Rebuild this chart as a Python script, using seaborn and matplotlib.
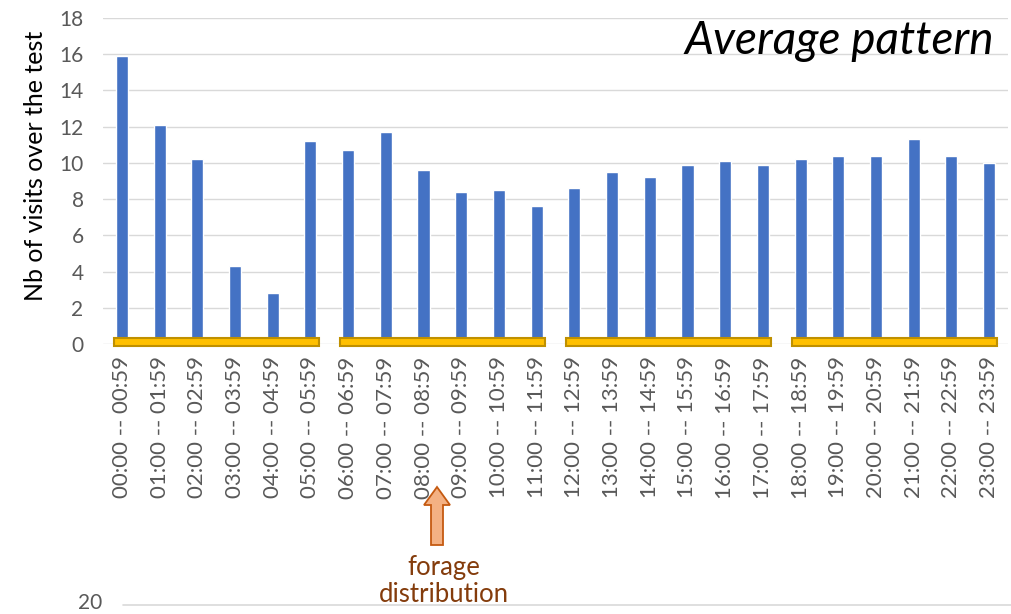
import numpy as np
import pandas as pd
import seaborn as sns
import matplotlib.pyplot as plt
from matplotlib.patches import FancyBboxPatch, FancyArrow
from matplotlib.lines import Line2D

hours = ["%02d:00 -- %02d:59" % (h, h) for h in range(24)]
visits = [15.9, 12.1, 10.2, 4.3, 2.8, 11.2, 10.7, 11.7, 9.6, 8.4, 8.5, 7.6,
          8.6, 9.5, 9.2, 9.9, 10.1, 9.9, 10.2, 10.4, 10.4, 11.3, 10.4, 10.0]
periods = [(0, 5), (6, 11), (12, 17), (18, 23)]
yticks = [0, 2, 4, 6, 8, 10, 12, 14, 16, 18]

df = pd.DataFrame({"hour": hours, "visits": visits})

sns.set_style("white")
plt.rcParams['font.family'] = ['Lato', 'DejaVu Sans']

fig = plt.figure(figsize=(10.11, 6.14), dpi=100)
ax = fig.add_axes([103 / 1011, 1 - 344 / 614, 905 / 1011, 326 / 614])

sns.barplot(data=df, x="hour", y="visits", color="#4472C4", width=0.32,
            saturation=1, ax=ax, zorder=3)

ax.set_ylim(0, 18)
ax.set_xlim(-0.5, 23.5)
ax.set_yticks(yticks)
ax.grid(axis="y", color="#D9D9D9", linewidth=1, zorder=0)
for s in ax.spines.values():
    s.set_visible(False)
ax.tick_params(axis="y", length=0, labelsize=15, labelcolor="#595959", pad=14)
ax.tick_params(axis="x", length=0, labelsize=16, labelcolor="#595959", rotation=90, pad=9)
ax.set_xlabel("")
ax.set_ylabel("Nb of visits over the test", fontsize=18, color="black")
ax.yaxis.set_label_coords(-0.062, 0.546)

# yellow period bars along the baseline
for a, b in periods:
    box = FancyBboxPatch((a - 0.22, -0.1), (b - a) + 0.44, 0.45,
                         boxstyle="square,pad=0", facecolor="#FFC000",
                         edgecolor="#BF9000", linewidth=1.5, clip_on=False, zorder=4)
    ax.add_patch(box)

ax.text(0.985, 0.995, "Average pattern", transform=ax.transAxes, ha="right", va="top",
        fontsize=33, style="italic", color="black", zorder=5)

# forage distribution arrow
arr = FancyArrow(437 / 1011, 1 - 545 / 614, 0, 58 / 614, width=12 / 1011,
                 head_width=26 / 1011, head_length=18 / 614, length_includes_head=True,
                 facecolor="#F4B183", edgecolor="#C55A11", linewidth=1.3,
                 transform=fig.transFigure)
fig.patches.append(arr)
fig.text(444 / 1011, 1 - 581 / 614, "forage\ndistribution", ha="center", va="center",
         fontsize=18.5, color="#843C0C", linespacing=1.1)

# fragment of the chart below
fig.add_artist(Line2D([123 / 1011, 1.0], [1 - 605 / 614] * 2, color="#D9D9D9",
                      linewidth=1.2, transform=fig.transFigure))
fig.text(90 / 1011, 1 - 603 / 614, "20", ha="center", va="center", fontsize=15,
         color="#595959")

fig.savefig("out.png", dpi=100)
